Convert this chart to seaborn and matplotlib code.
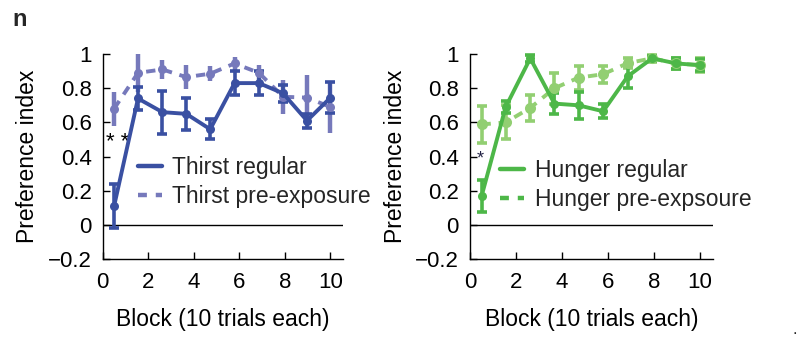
import matplotlib
matplotlib.use("Agg")
import matplotlib.pyplot as plt
from matplotlib.lines import Line2D
import seaborn as sns
import pandas as pd

sns.set_theme(style="white")
plt.rcParams['font.family'] = ['Liberation Sans', 'DejaVu Sans']

# positions (blocks)
blocks = [0.5, 1.55, 2.62, 3.67, 4.72, 5.79, 6.86, 7.92, 8.97, 10.0]

thirst_regular = [0.11, 0.74, 0.66, 0.65, 0.56, 0.83, 0.83, 0.77, 0.61, 0.745]
thirst_regular_err = [0.13, 0.07, 0.125, 0.095, 0.06, 0.07, 0.07, 0.05, 0.04, 0.09]
thirst_pre = [0.68, 0.89, 0.91, 0.865, 0.885, 0.945, 0.89, 0.75, 0.745, 0.69]
thirst_pre_err = [0.10, 0.11, 0.055, 0.07, 0.045, 0.04, 0.045, 0.10, 0.13, 0.15]

hunger_regular = [0.167, 0.69, 0.975, 0.71, 0.70, 0.665, 0.87, 0.975, 0.945, 0.935]
hunger_regular_err = [0.093, 0.035, 0.02, 0.06, 0.08, 0.04, 0.07, 0.015, 0.03, 0.035]
hunger_pre = [0.588, 0.60, 0.685, 0.80, 0.862, 0.882, 0.947, 0.975, 0.945, 0.935]
hunger_pre_err = [0.11, 0.10, 0.075, 0.09, 0.07, 0.05, 0.03, 0.02, 0.03, 0.04]

yticks = [-0.2, 0, 0.2, 0.4, 0.6, 0.8, 1]
ytick_labels = ["\u22120.2", "0", "0.2", "0.4", "0.6", "0.8", "1"]
xticks = [0, 2, 4, 6, 8, 10]

c_thirst = "#3a50a2"
c_thirst_pre = "#7679bb"
c_hunger = "#4db748"
c_hunger_pre = "#92cf72"

fig = plt.figure(figsize=(7.98, 3.4), dpi=100)
ax1 = fig.add_axes([0.1287, 0.238, 0.3011, 0.603])
ax2 = fig.add_axes([0.589, 0.238, 0.304, 0.603])

def panel(ax, reg, reg_err, pre, pre_err, c_reg, c_pre, lab_reg, lab_pre,
          pre_caps, legend_pre_color, leg_anchor, pre_ms):
    ax.axhline(0, color="black", lw=1.0, zorder=1)
    df = pd.DataFrame({"x": blocks + blocks,
                       "y": reg + pre,
                       "cond": [lab_reg] * len(blocks) + [lab_pre] * len(blocks)})
    ax.errorbar(blocks, pre, yerr=pre_err, fmt="none", ecolor=c_pre,
                elinewidth=3.2 if not pre_caps else 2.6,
                capsize=3.5 if pre_caps else 0, capthick=2.6, zorder=2, clip_on=False)
    ax.errorbar(blocks, reg, yerr=reg_err, fmt="none", ecolor=c_reg,
                elinewidth=2.6, capsize=3.5, capthick=2.6, zorder=3, clip_on=False)
    sns.lineplot(data=df[df.cond == lab_pre], x="x", y="y", color=c_pre,
                 dashes=(2.4, 2.0), marker="o", markersize=pre_ms,
                 markeredgewidth=0, lw=2.8, ax=ax, legend=False, zorder=4, clip_on=False)
    sns.lineplot(data=df[df.cond == lab_reg], x="x", y="y", color=c_reg,
                 marker="o", markersize=6.5,
                 markeredgewidth=0, lw=2.8, ax=ax, legend=False, zorder=5, clip_on=False)
    ax.set_xlim(0, 10.55)
    ax.set_ylim(-0.2, 1.0)
    ax.set_xticks(xticks)
    ax.set_xticklabels([str(t) for t in xticks])
    ax.set_yticks(yticks)
    ax.set_yticklabels(ytick_labels)
    ax.tick_params(axis="x", direction="in", length=5, width=1, colors="black",
                   labelsize=16, pad=9, bottom=True)
    ax.tick_params(axis="y", direction="in", length=5, width=1, colors="black",
                   labelsize=16, pad=8, left=True)
    for s in ["top", "right"]:
        ax.spines[s].set_visible(False)
    for s in ["left", "bottom"]:
        ax.spines[s].set_color("black")
        ax.spines[s].set_linewidth(1.0)
    ax.set_xlabel("Block (10 trials each)", fontsize=16.5, labelpad=11, color="black")
    ax.set_ylabel("Preference index", fontsize=16.5, labelpad=6, color="black")
    handles = [Line2D([], [], color=c_reg, lw=3.2),
               Line2D([], [], color=legend_pre_color, lw=3.2, dashes=(2.0, 2.0))]
    ax.legend(handles, [lab_reg, lab_pre], loc="upper left",
              bbox_to_anchor=leg_anchor, frameon=False, fontsize=16.5,
              handlelength=1.05, handletextpad=0.45, labelspacing=0.3,
              borderaxespad=0, borderpad=0)

panel(ax1, thirst_regular, thirst_regular_err, thirst_pre, thirst_pre_err,
      c_thirst, c_thirst_pre, "Thirst regular", "Thirst pre-exposure",
      pre_caps=False, legend_pre_color=c_thirst_pre, leg_anchor=(0.145, 0.505),
      pre_ms=6.5)
panel(ax2, hunger_regular, hunger_regular_err, hunger_pre, hunger_pre_err,
      c_hunger, c_hunger_pre, "Hunger regular", "Hunger pre-expsoure",
      pre_caps=True, legend_pre_color=c_hunger, leg_anchor=(0.125, 0.49),
      pre_ms=8)

ax1.text(0.15, 0.485, "* *", fontsize=16, color="black", ha="left", va="center")
ax2.text(0.3, 0.385, "*", fontsize=13, color="#222244", ha="left", va="center")

fig.text(12 / 798, 1 - 20 / 340, "n", fontsize=17, fontweight="bold", va="center")
fig.text(793 / 798, 1 - 330 / 340, ".", fontsize=12, va="center")

fig.savefig("out.png", dpi=100)
